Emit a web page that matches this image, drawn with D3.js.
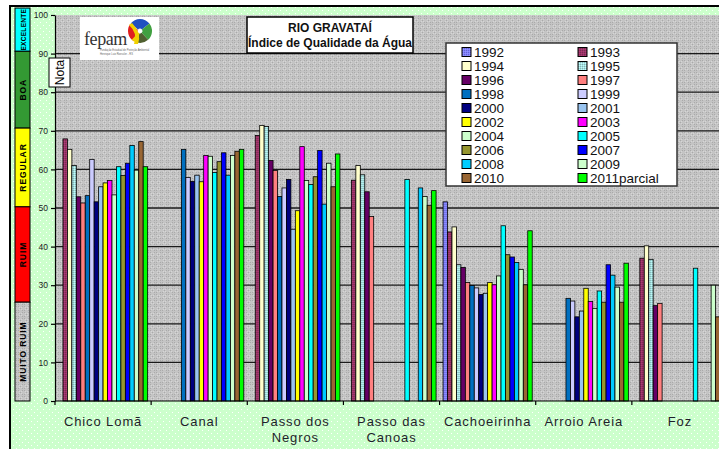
<!DOCTYPE html>
<html><head><meta charset="utf-8">
<script src="https://cdn.jsdelivr.net/npm/d3@7/dist/d3.min.js"></script>
<style>
body{margin:0;background:#fff}
svg{display:block}
text{font-family:"Liberation Sans",Arial,sans-serif}
</style>
</head><body>
<svg id="chart" width="719" height="449"></svg>
<script>
// ---------- DATA ----------
const categories = ["Chico Lomã","Canal","Passo dos\nNegros","Passo das\nCanoas","Cachoeirinha","Arroio Areia","Foz"];
const series = ["1992","1993","1994","1995","1996","1997","1998","1999","2000","2001",
                "2002","2003","2004","2005","2006","2007","2008","2009","2010","2011parcial"];
const seriesColors = ["#8080ff","#993366","#ffffcc","#a6e0e0","#660066","#ff8080","#0070c0","#ccccff","#000080","#99c4f0",
                      "#ffff00","#ff00ff","#ccffcc","#00ffff","#969630","#0000ff","#00ccff","#ccffcc","#996633","#00ff00"];
const patternedSeries = ["1992","1993","1995"];

const chicoLoma      = [null,67.9,65.2,61.0,52.9,51.3,53.2,62.6,51.6,55.5,56.5,57.1,53.4,60.7,58.4,61.6,66.2,59.8,67.2,60.7];
const canal          = [null,null,null,null,null,null,65.2,57.9,56.9,58.5,56.8,63.6,63.4,59.2,62.0,64.3,58.5,63.6,64.7,65.2];
const passoDosNegros = [null,68.8,71.4,71.1,62.3,59.7,53.0,55.2,57.4,44.5,49.3,65.9,57.1,56.1,58.1,64.9,51.0,61.6,55.5,64.0];
const passoDasCanoas = [null,57.2,61.0,58.6,54.2,47.8,null,null,null,null,null,null,null,57.4,null,null,55.2,53.0,50.7,54.5];
const cachoeirinha   = [51.6,43.8,45.1,35.3,34.6,30.7,29.9,29.3,27.6,27.9,30.7,30.1,32.4,45.4,37.9,37.3,35.9,34.1,30.1,44.1];
const arroioAreia    = [null,null,null,null,null,null,26.6,25.9,21.8,23.3,29.2,25.8,24.0,28.5,25.6,35.3,32.6,29.5,25.6,35.7];
const foz            = [null,37.0,40.2,36.7,24.7,25.3,null,null,null,null,null,null,null,34.4,null,null,null,30.0,21.8,null];
const categoryValues = [chicoLoma, canal, passoDosNegros, passoDasCanoas, cachoeirinha, arroioAreia, foz];

const yTicks = [0,10,20,30,40,50,60,70,80,90,100];
const bandLabels = ["EXCELENTE","BOA","REGULAR","RUIM","MUITO RUIM"];
const bandColors = ["#00ffff","#339933","#ffff00","#ff0000","url(#grayPat)"];
const bandEdges  = [101.8, 90.6, 70.7, 50.3, 25.6, 0];

const titleLines = ["RIO GRAVATAÍ","Índice de Qualidade da Água"];

// ---------- SETUP ----------
const svg = d3.select("#chart");
const defs = svg.append("defs");

const pg = defs.append("pattern").attr("id","greenDots").attr("width",6).attr("height",6).attr("patternUnits","userSpaceOnUse");
pg.append("rect").attr("width",6).attr("height",6).attr("fill","#ccffcc");
pg.append("rect").attr("x",1).attr("y",1).attr("width",1).attr("height",1).attr("fill","#ffffff");
pg.append("rect").attr("x",4).attr("y",4).attr("width",1).attr("height",1).attr("fill","#ffffff");

const pp = defs.append("pattern").attr("id","grayPat").attr("width",6).attr("height",6).attr("patternUnits","userSpaceOnUse");
pp.append("rect").attr("width",6).attr("height",6).attr("fill","#c4c4c4");
[[0,0],[2,2],[4,0],[0,4],[4,4],[1,1],[3,3],[3,1],[1,3]].forEach(([a,b],i)=>{
  pp.append("rect").attr("x",a).attr("y",b).attr("width",1).attr("height",1)
    .attr("fill", i<5 ? "#a9a9a9" : "#d6d6d6");
});

patternedSeries.forEach(s=>{
  const c = seriesColors[series.indexOf(s)];
  const p = defs.append("pattern").attr("id","pat"+s).attr("width",2).attr("height",2).attr("patternUnits","userSpaceOnUse");
  p.append("rect").attr("width",2).attr("height",2).attr("fill",c);
  p.append("rect").attr("width",1).attr("height",1).attr("fill",d3.color(c).darker(0.6));
  p.append("rect").attr("x",1).attr("y",1).attr("width",1).attr("height",1).attr("fill",d3.color(c).brighter(0.4));
});
const fillFor = s => patternedSeries.includes(s) ? `url(#pat${s})` : seriesColors[series.indexOf(s)];

// scales
const plotLeft = 55, plotRight = 728, plotTop = 15, plotBottom = 401;
const y = d3.scaleLinear().domain([0,100]).range([plotBottom, plotTop]);
const x0 = d3.scaleBand().domain(categories).range([plotLeft, plotRight]);
const x1 = d3.scaleBand().domain(series).range([3.5, x0.bandwidth()-3.5]);

// chart area
svg.append("rect").attr("x",10).attr("y",6).attr("width",740).attr("height",460)
  .attr("fill","url(#greenDots)").attr("stroke","#000").attr("stroke-width",2);

// plot area
svg.append("rect").attr("x",plotLeft).attr("y",plotTop).attr("width",plotRight-plotLeft).attr("height",plotBottom-plotTop)
  .attr("fill","url(#grayPat)");

// gridlines
svg.append("g").selectAll("line").data(yTicks.filter(t=>t>0 && t<100)).join("line")
  .attr("x1",plotLeft).attr("x2",plotRight).attr("y1",d=>y(d)).attr("y2",d=>y(d))
  .attr("stroke","#1a1a1a").attr("stroke-width",1.3);

// quality bands
const bg = svg.append("g");
bandLabels.forEach((lab,i)=>{
  const yt = y(bandEdges[i]), yb = y(bandEdges[i+1]);
  bg.append("rect").attr("x",15).attr("y",yt).attr("width",15).attr("height",yb-yt)
    .attr("fill",bandColors[i]).attr("stroke","#000").attr("stroke-width",1);
  bg.append("text").attr("transform",`translate(23,${(yt+yb)/2}) rotate(-90)`)
    .attr("text-anchor","middle").attr("dominant-baseline","central")
    .attr("font-size", i===0 ? 6.5 : 8.5).attr("font-weight","bold")
    .attr("letter-spacing", i===0 ? 0.3 : 0.9).attr("fill","#000").text(lab);
});

// bars
const groups = svg.append("g").selectAll("g").data(categories).join("g")
  .attr("transform",d=>`translate(${x0(d)},0)`);
groups.selectAll("rect")
  .data((c,ci)=>series.map((s,si)=>({s, v: categoryValues[ci][si]})).filter(d=>d.v!=null))
  .join("rect")
  .attr("x",d=>x1(d.s)).attr("width",x1.bandwidth())
  .attr("y",d=>y(d.v)).attr("height",d=>y(0)-y(d.v))
  .attr("fill",d=>fillFor(d.s)).attr("stroke","#000").attr("stroke-width",0.8);

// y axis
const yAxis = svg.append("g").attr("transform",`translate(${plotLeft},0)`)
  .call(d3.axisLeft(y).tickValues(yTicks).tickSize(4).tickSizeOuter(0).tickPadding(3).tickFormat(d3.format("d")));
yAxis.select(".domain").attr("stroke","#000").attr("stroke-width",1.2);
yAxis.selectAll(".tick line").attr("stroke","#000").attr("stroke-width",1.2);
yAxis.selectAll(".tick text").attr("font-size",8.5).attr("fill","#222");

// x axis line + boundary ticks
const xa = svg.append("g");
xa.append("line").attr("x1",plotLeft).attr("x2",plotRight).attr("y1",plotBottom).attr("y2",plotBottom)
  .attr("stroke","#000").attr("stroke-width",1.2);
xa.selectAll("line.t").data(categories).join("line").attr("class","t")
  .attr("x1",d=>x0(d)).attr("x2",d=>x0(d)).attr("y1",plotBottom).attr("y2",plotBottom+4)
  .attr("stroke","#000").attr("stroke-width",1.2);
xa.selectAll("text").data(categories).join("text")
  .attr("x",d=>x0(d)+x0.bandwidth()/2).attr("y",426)
  .attr("text-anchor","middle").attr("font-size",13).attr("letter-spacing",0.9).attr("fill","#1e1e2a")
  .each(function(d){
    const lines = d.split("\n");
    d3.select(this).selectAll("tspan").data(lines).join("tspan")
      .attr("x",x0(d)+x0.bandwidth()/2).attr("dy",(l,i)=>i===0?0:16).text(l=>l);
  });

// logo
const logo = svg.append("g");
logo.append("rect").attr("x",80).attr("y",17).attr("width",79).attr("height",43).attr("fill","#fff");
const arc = d3.arc().innerRadius(2.5).outerRadius(12);
const emb = logo.append("g").attr("transform","translate(140,31)");
[["#e01e1e",-2.6,-1.0],["#2050c0",-0.9,0.9],["#40a040",0.9,2.4],["#506030",2.4,3.4],["#f0d000",3.4,3.9]].forEach(([c,a,b])=>{
  emb.append("path").attr("d",arc({startAngle:a,endAngle:b})).attr("fill",c);
});
emb.append("path").attr("d","M-11,-6 Q-2,2 -6,13 L-2,13 Q2,2 -8,-8 Z").attr("fill","#f0d000");
logo.append("text").attr("x",84).attr("y",45).style("font-family","'Liberation Serif','DejaVu Serif',serif")
  .attr("font-size",18).attr("fill","#333").attr("letter-spacing",-0.4).text("fepam");
logo.append("text").attr("x",100).attr("y",51).attr("font-size",2.6).attr("fill","#666").text("Fundação Estadual de Proteção Ambiental");
logo.append("text").attr("x",100).attr("y",54.5).attr("font-size",2.6).attr("fill","#666").text("Henrique Luiz Roessler - RS");

// Nota box
svg.append("rect").attr("x",49).attr("y",58).attr("width",21).attr("height",29).attr("fill","#fff").attr("stroke","#000").attr("stroke-width",1);
svg.append("text").attr("transform","translate(60,72.5) rotate(-90)").attr("text-anchor","middle")
  .attr("dominant-baseline","central").attr("font-size",12).attr("fill","#000").text("Nota");

// title
svg.append("rect").attr("x",247).attr("y",17).attr("width",166).attr("height",36)
  .attr("fill","#fff").attr("stroke","#000").attr("stroke-width",1.5);
svg.append("g").selectAll("text").data(titleLines).join("text")
  .attr("x",330).attr("y",(d,i)=>32+i*15).attr("text-anchor","middle")
  .attr("font-size",12).attr("font-weight","bold").attr("fill","#111").text(d=>d);

// legend
const lg = svg.append("g");
lg.append("rect").attr("x",446).attr("y",43).attr("width",231).attr("height",143)
  .attr("fill","#fff").attr("stroke","#333").attr("stroke-width",1.5);
const items = lg.selectAll("g.item").data(series).join("g").attr("class","item")
  .attr("transform",(d,i)=>`translate(${462+(i%2)*116},${52+Math.floor(i/2)*14})`);
items.append("rect").attr("x",0).attr("y",-4.5).attr("width",9).attr("height",9)
  .attr("fill",d=>fillFor(d)).attr("stroke","#000").attr("stroke-width",1);
items.append("text").attr("x",12).attr("y",5).attr("font-size",13.5).attr("fill","#111").text(d=>d);
</script>
</body></html>
